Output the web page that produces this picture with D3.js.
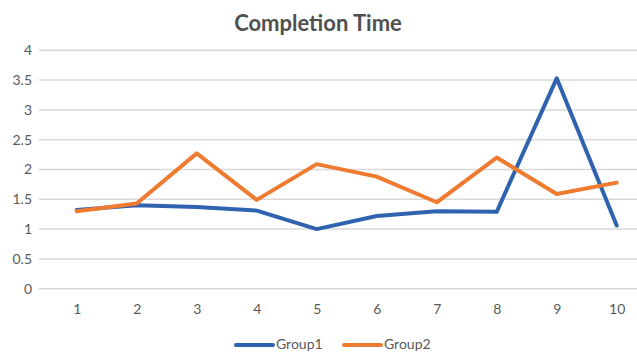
<!DOCTYPE html>
<html>
<head>
<meta charset="utf-8">
<script src="https://cdn.jsdelivr.net/npm/d3@7"></script>
<style>
  html, body { margin: 0; padding: 0; background: #fff; overflow: hidden; }
  svg { display: block; }
</style>
</head>
<body>
<svg id="chart" width="637" height="353"></svg>
<script>
// Completion time per trial for two groups
const trials = [1, 2, 3, 4, 5, 6, 7, 8, 9, 10];
const group1 = [1.32, 1.40, 1.37, 1.31, 1.00, 1.22, 1.30, 1.29, 3.53, 1.06];
const group2 = [1.30, 1.43, 2.27, 1.49, 2.09, 1.88, 1.45, 2.20, 1.59, 1.78];
const yTicks = [0, 0.5, 1, 1.5, 2, 2.5, 3, 3.5, 4];
const seriesNames = ["Group1", "Group2"];
const colors = ["#2f63b0", "#ee7b30"];

const svg = d3.select("#chart");
const fontFamily = "Lato, 'Open Sans', sans-serif";

const x = d3.scalePoint().domain(trials).range([76.7, 616.7]);
const y = d3.scaleLinear().domain([0, 4]).range([288.7, 50.3]);
const gridLeft = 39, gridRight = 660;

// Title
svg.append("text")
  .attr("x", 318).attr("y", 31)
  .attr("text-anchor", "middle")
  .attr("font-family", fontFamily)
  .attr("font-weight", "bold")
  .attr("font-size", 22)
  .attr("fill", "#505050")
  .text("Completion Time");

// Horizontal gridlines
svg.append("g").selectAll("line").data(yTicks).join("line")
  .attr("x1", gridLeft).attr("x2", gridRight)
  .attr("y1", d => y(d)).attr("y2", d => y(d))
  .attr("stroke", "#d9d9d9").attr("stroke-width", 1.5);

// Y axis labels
const yAxis = d3.axisLeft(y).tickValues(yTicks).tickSize(0).tickPadding(0)
  .tickFormat(d3.format("~g"));
svg.append("g").attr("transform", "translate(32,0)").call(yAxis)
  .call(g => g.select(".domain").remove())
  .call(g => g.selectAll("text")
    .attr("font-family", fontFamily).attr("font-size", 14).attr("fill", "#595959"));

// X axis labels
const xAxis = d3.axisBottom(x).tickSize(0).tickPadding(0);
svg.append("g").attr("transform", "translate(0,304)").call(xAxis)
  .call(g => g.select(".domain").remove())
  .call(g => g.selectAll("text")
    .attr("font-family", fontFamily).attr("font-size", 14).attr("fill", "#595959"));

// Series lines
const line = d3.line().x((d, i) => x(trials[i])).y(d => y(d));
[group1, group2].forEach((vals, i) => {
  svg.append("path")
    .datum(vals)
    .attr("d", line)
    .attr("fill", "none")
    .attr("stroke", colors[i])
    .attr("stroke-width", 4)
    .attr("stroke-linejoin", "round")
    .attr("stroke-linecap", "round");
});

// Legend
const legendItems = [
  { name: seriesNames[0], color: colors[0], x: 236 },
  { name: seriesNames[1], color: colors[1], x: 344 }
];
const legend = svg.append("g");
legendItems.forEach(item => {
  legend.append("line")
    .attr("x1", item.x).attr("x2", item.x + 37)
    .attr("y1", 345).attr("y2", 345)
    .attr("stroke", item.color).attr("stroke-width", 4)
    .attr("stroke-linecap", "round");
  legend.append("text")
    .attr("x", item.x + 40).attr("y", 349)
    .attr("font-family", fontFamily).attr("font-size", 14).attr("fill", "#595959")
    .text(item.name);
});
</script>
</body>
</html>
